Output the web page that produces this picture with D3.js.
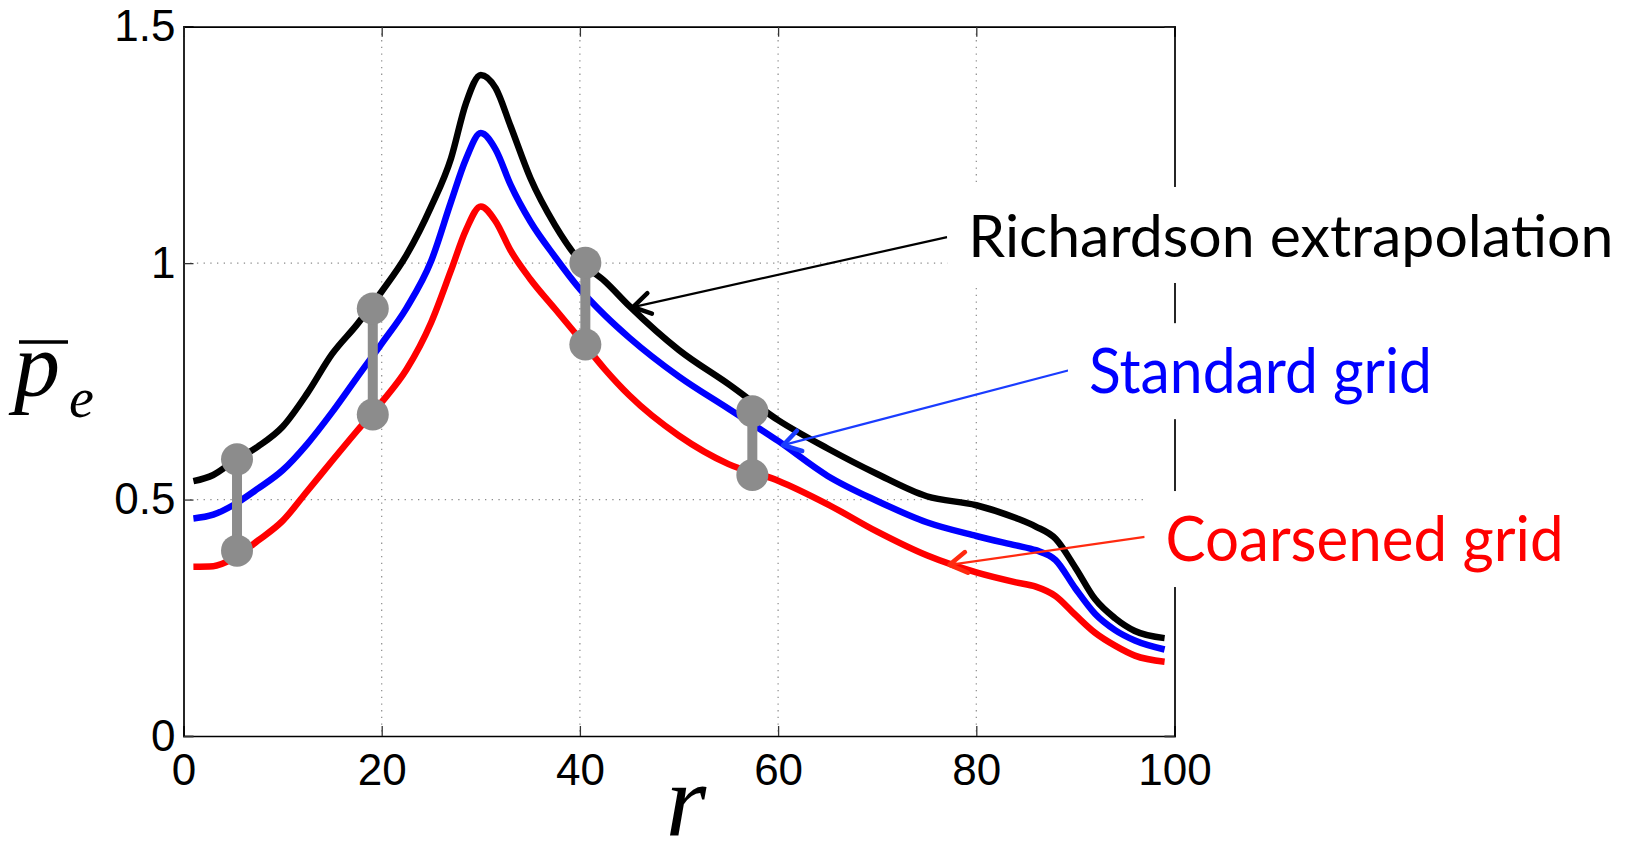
<!DOCTYPE html>
<html>
<head>
<meta charset="utf-8">
<script src="https://cdn.jsdelivr.net/npm/d3@7"></script>
<style>
  html, body { margin: 0; padding: 0; background: #fff; }
  svg { display: block; }
</style>
</head>
<body>
<svg id="chart" width="1629" height="858"></svg>
<script>
// radial positions shared by the three curves
const rValues = [1, 3, 5, 7.5, 10, 12.5, 15, 17.5, 20, 22.5, 25, 27, 28.5, 30, 31.5, 33, 35, 37.5, 40,
                 42.5, 45, 50, 55, 60, 65, 70, 75, 80, 84, 86, 88, 90, 92, 94, 96, 99];
const richardson = [0.539, 0.552, 0.580, 0.612, 0.654, 0.725, 0.808, 0.870, 0.940, 1.017, 1.120, 1.222, 1.338, 1.398, 1.370, 1.290, 1.180, 1.080, 1.005,
                    0.962, 0.909, 0.816, 0.744, 0.668, 0.608, 0.554, 0.507, 0.488, 0.461, 0.443, 0.417, 0.356, 0.289, 0.249, 0.222, 0.207];
const standard = [0.460, 0.468, 0.488, 0.523, 0.562, 0.618, 0.685, 0.758, 0.830, 0.905, 1.005, 1.130, 1.220, 1.275, 1.240, 1.166, 1.088, 1.013, 0.945,
                  0.890, 0.842, 0.760, 0.692, 0.624, 0.550, 0.497, 0.452, 0.423, 0.403, 0.393, 0.372, 0.312, 0.258, 0.224, 0.202, 0.183];
const coarsened = [0.358, 0.359, 0.375, 0.413, 0.455, 0.518, 0.582, 0.645, 0.706, 0.775, 0.875, 0.985, 1.070, 1.120, 1.088, 1.027, 0.966, 0.903, 0.840,
                   0.776, 0.720, 0.635, 0.575, 0.540, 0.490, 0.432, 0.382, 0.346, 0.325, 0.316, 0.296, 0.256, 0.218, 0.191, 0.170, 0.157];

// grey error markers (top on Richardson, bottom on coarsened)
const markerR = [5.4, 19.1, 40.55, 57.4];
const markerTop = [0.585, 0.904, 1.001, 0.687];
const markerBottom = [0.392, 0.680, 0.828, 0.552];

const xTicks = [0, 20, 40, 60, 80, 100];
const yTicks = [0, 0.5, 1, 1.5];

// annotations: text anchor (left, baseline) and arrow tail/tip in data units
const labels = ["Richardson extrapolation", "Standard grid", "Coarsened grid"];
const labelWidths = [645, 343, 398];
const labelSizes = [58, 61, 61];
const labelColors = ["#000000", "#0000ff", "#ff0000"];
const arrowColors = ["#000000", "#1a3cff", "#ff2a10"];
const labelR = [79.2, 91.37, 99.1];
const labelV = [1.013, 0.725, 0.370];
const tailR = [77.05, 89.45, 97.0];
const tailV = [1.055, 0.774, 0.421];
const tipR = [45.36, 60.5, 77.3];
const tipV = [0.907, 0.615, 0.362];

const svg = d3.select("#chart");
const margin = { left: 183.5, top: 26.7, right: 1629 - 1174.5, bottom: 858 - 736 };
const width = 1629 - margin.left - margin.right;
const height = 858 - margin.top - margin.bottom;

const x = d3.scaleLinear().domain([0, 100]).range([0, width]);
const y = d3.scaleLinear().domain([0, 1.5]).range([height, 0]);

const g = svg.append("g").attr("transform", `translate(${margin.left},${margin.top})`);

// dotted grid
g.append("g").selectAll("line")
    .data(xTicks.filter(d => d > 0 && d < 100))
    .enter().append("line")
    .attr("x1", d => x(d)).attr("x2", d => x(d))
    .attr("y1", 0).attr("y2", height)
    .attr("stroke", "#8a8a8a").attr("stroke-width", 1.2)
    .attr("stroke-dasharray", "1.3,5.4");
g.append("g").selectAll("line")
    .data(yTicks.filter(d => d > 0 && d < 1.5))
    .enter().append("line")
    .attr("y1", d => y(d)).attr("y2", d => y(d))
    .attr("x1", 0).attr("x2", width)
    .attr("stroke", "#8a8a8a").attr("stroke-width", 1.2)
    .attr("stroke-dasharray", "1.3,5.4");

// axes with inward ticks
const tickFont = "'Liberation Sans', Arial, Helvetica, sans-serif";
const xAxis = g.append("g").attr("transform", `translate(0,${height})`)
    .call(d3.axisBottom(x).tickValues(xTicks).tickSize(-10).tickPadding(18).tickFormat(d3.format("d")));
const yAxis = g.append("g")
    .call(d3.axisLeft(y).tickValues(yTicks).tickSize(-10).tickPadding(8).tickFormat(d => d === 0 ? "0" : String(d)));
g.append("g").call(d3.axisTop(x).tickValues(xTicks).tickSize(-10).tickFormat(""));
g.append("g").attr("transform", `translate(${width},0)`)
    .call(d3.axisRight(y).tickValues(yTicks).tickSize(-10).tickFormat(""));
g.selectAll(".domain").attr("stroke", "#000").attr("stroke-width", 1.7);
g.selectAll(".tick line").attr("stroke", "#333").attr("stroke-width", 1.3);
[xAxis, yAxis].forEach(a => a.selectAll("text")
    .style("font-family", tickFont).style("font-size", "44px").attr("fill", "#000"));
xAxis.selectAll("text").attr("dy", "0.71em");

// curves
const line = d3.line()
    .x((d, i) => x(rValues[i]))
    .y(d => y(d))
    .curve(d3.curveMonotoneX);
[[richardson, "#000000"], [standard, "#0000ff"], [coarsened, "#ff0000"]].forEach(([vals, col]) => {
    g.append("path")
        .datum(vals)
        .attr("d", line)
        .attr("fill", "none")
        .attr("stroke", col)
        .attr("stroke-width", 6.5);
});

// grey markers
const markers = g.append("g").selectAll("g")
    .data(markerR.map((r, i) => ({ r, top: markerTop[i], bottom: markerBottom[i] })))
    .enter().append("g");
markers.append("line")
    .attr("x1", d => x(d.r)).attr("x2", d => x(d.r))
    .attr("y1", d => y(d.top)).attr("y2", d => y(d.bottom))
    .attr("stroke", "#8c8c8c").attr("stroke-width", 10);
markers.append("circle").attr("cx", d => x(d.r)).attr("cy", d => y(d.top)).attr("r", 16).attr("fill", "#8c8c8c");
markers.append("circle").attr("cx", d => x(d.r)).attr("cy", d => y(d.bottom)).attr("r", 16).attr("fill", "#8c8c8c");

// arrows
labels.forEach((lab, i) => {
    const x0 = x(tailR[i]), y0 = y(tailV[i]);
    const x1 = x(tipR[i]), y1 = y(tipV[i]);
    const ang = Math.atan2(y0 - y1, x0 - x1);
    const len = 20, spread = 0.55;
    const w1 = [x1 + len * Math.cos(ang + spread), y1 + len * Math.sin(ang + spread)];
    const w2 = [x1 + len * Math.cos(ang - spread), y1 + len * Math.sin(ang - spread)];
    g.append("line")
        .attr("x1", x0).attr("y1", y0).attr("x2", x1).attr("y2", y1)
        .attr("stroke", arrowColors[i]).attr("stroke-width", 2.2);
    g.append("path")
        .attr("d", `M${w1[0]},${w1[1]}L${x1},${y1}L${w2[0]},${w2[1]}`)
        .attr("fill", "none").attr("stroke", arrowColors[i])
        .attr("stroke-width", 4.5).attr("stroke-linecap", "round").attr("stroke-linejoin", "round");
});

// labels on white boxes (they hide the frame and grid behind)
const labelFont = "Lato, 'Open Sans', sans-serif";
labels.forEach((lab, i) => {
    const lg = g.append("g");
    const box = lg.append("rect").attr("fill", "#fff");
    lg.append("text")
        .attr("x", x(labelR[i]))
        .attr("y", y(labelV[i]))
        .attr("textLength", labelWidths[i])
        .attr("lengthAdjust", "spacingAndGlyphs")
        .style("font-family", labelFont)
        .style("font-size", labelSizes[i] + "px")
        .attr("fill", labelColors[i])
        .text(lab);
    const base = y(labelV[i]);
    box.attr("x", x(labelR[i]) - 21).attr("width", labelWidths[i] + 42)
       .attr("y", base - 70).attr("height", 96);
});

// axis titles
const mathFont = "'Liberation Serif', 'DejaVu Serif', serif";
const yl = svg.append("g");
yl.append("text")
    .attr("x", 14).attr("y", 396)
    .style("font-family", mathFont).style("font-style", "italic").style("font-size", "92px")
    .text("p");
yl.append("line")
    .attr("x1", 19).attr("x2", 68).attr("y1", 342).attr("y2", 342)
    .attr("stroke", "#000").attr("stroke-width", 3.5);
yl.append("text")
    .attr("x", 69).attr("y", 417)
    .style("font-family", mathFont).style("font-style", "italic").style("font-size", "56px")
    .text("e");

svg.append("text")
    .attr("x", 686).attr("y", 836)
    .attr("text-anchor", "middle")
    .style("font-family", mathFont).style("font-style", "italic").style("font-size", "104px")
    .text("r");
</script>
</body>
</html>
